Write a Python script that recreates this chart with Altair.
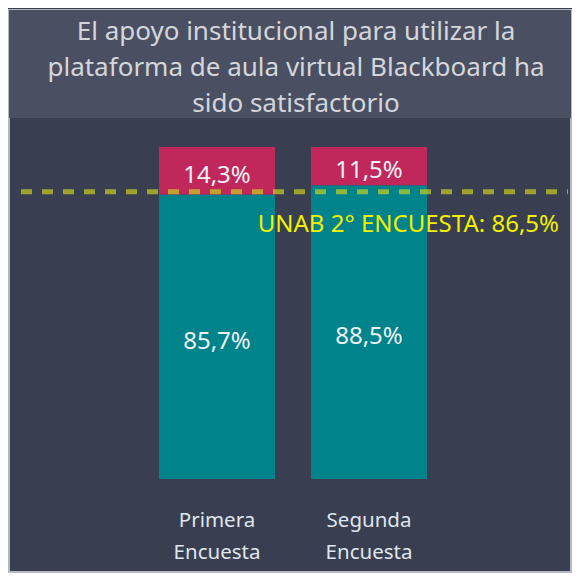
import altair as alt
import pandas as pd

# ---- data ----
categories = ["Primera Encuesta", "Segunda Encuesta"]
satisfechos = [85.7, 88.5]
no_satisfechos = [14.3, 11.5]
referencia = 86.5
referencia_texto = "UNAB 2° ENCUESTA: 86,5%"
titulo = ["El apoyo institucional para utilizar la",
          "plataforma de aula virtual Blackboard ha",
          "sido satisfactorio"]

def fmt(v):
    return f"{v:.1f}".replace(".", ",") + "%"

rows = []
for c, s, n in zip(categories, satisfechos, no_satisfechos):
    rows.append({"cat": c, "serie": "Satisfecho", "y0": 0, "y1": s, "mid": s / 2, "label": fmt(s)})
    rows.append({"cat": c, "serie": "No", "y0": s, "y1": s + n, "mid": s + n / 2, "label": fmt(n)})
df = pd.DataFrame(rows)
ref_df = pd.DataFrame({"v": [referencia], "t": [referencia_texto]})
title_df = pd.DataFrame({"t": [titulo]})

BG = "#393e50"
FONT = "Noto Sans"

W, H = 562, 562

xscale = alt.Scale(domain=categories, range=[150, 418], paddingInner=0.23684, paddingOuter=0)
yscale = alt.Scale(domain=[0, 100], range=[469, 137])

base = alt.Chart(df)

title_box = alt.Chart(title_df).mark_rect(color="#4a5062").encode(
    x=alt.value(0), x2=alt.value(W), y=alt.value(0), y2=alt.value(108)
)
title_text = alt.Chart(title_df).mark_text(
    font=FONT, fontSize=26, color="#d4d6dc", align="center", baseline="alphabetic",
    lineHeight=36
).encode(x=alt.value(287), y=alt.value(30), text="t:N")

bars = base.mark_bar().encode(
    x=alt.X("cat:N", scale=xscale, sort=categories,
            axis=alt.Axis(title=None, orient="bottom", offset=-(H - 469), domain=False, ticks=False,
                          labelExpr="split(datum.label, ' ')", labelFont=FONT, labelFontSize=20.5,
                          labelColor="#dfe6ee", labelBaseline="alphabetic", labelPadding=47,
                          labelLineHeight=32, labelAngle=0, grid=False)),
    y=alt.Y("y0:Q", scale=yscale, axis=None),
    y2="y1:Q",
    color=alt.Color("serie:N", scale=alt.Scale(domain=["Satisfecho", "No"],
                                               range=["#00838b", "#c0285c"]), legend=None),
)

labels = base.mark_text(font=FONT, fontSize=24, color="#eef2f6", baseline="alphabetic", dy=12).encode(
    x=alt.X("cat:N", scale=xscale, sort=categories),
    y=alt.Y("mid:Q", scale=yscale),
    text="label:N",
)

rule = alt.Chart(ref_df).mark_rule(color="#c8d020", opacity=0.7, strokeWidth=5,
                                   strokeDash=[11, 10]).encode(
    x=alt.value(12), x2=alt.value(559), y=alt.Y("v:Q", scale=yscale)
)
ref_text = alt.Chart(ref_df).mark_text(font=FONT, fontSize=24, color="#f0f000", align="right",
                                       baseline="alphabetic", dy=40).encode(
    x=alt.value(550), y=alt.Y("v:Q", scale=yscale), text="t:N"
)

chart = alt.layer(title_box, title_text, bars, labels, rule, ref_text).properties(
    width=W, height=H,
    padding={"left": 1, "top": 2, "right": 1, "bottom": 1},
    autosize=alt.AutoSizeParams(type="none"),
    background=BG,
).configure_view(fill=BG, stroke="#b4b8c0", strokeWidth=2)

chart.save("out.html", embed_options={"renderer": "svg", "actions": False})
